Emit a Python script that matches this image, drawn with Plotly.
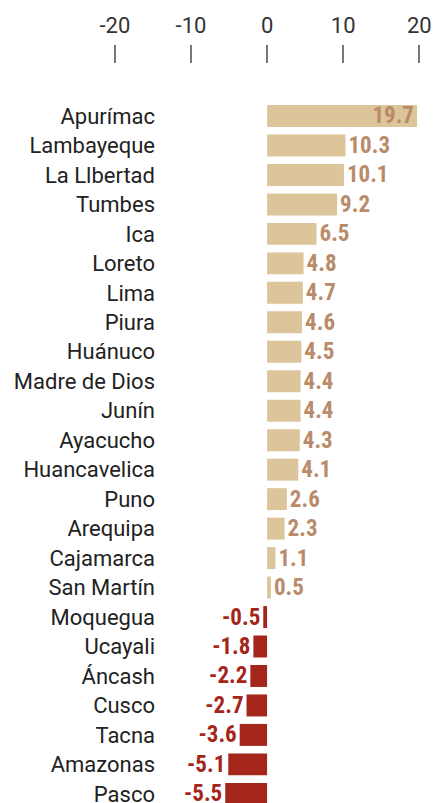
import plotly.graph_objects as go

regions = ["Apurímac", "Lambayeque", "La Llbertad", "Tumbes", "Ica", "Loreto", "Lima", "Piura",
           "Huánuco", "Madre de Dios", "Junín", "Ayacucho", "Huancavelica", "Puno", "Arequipa",
           "Cajamarca", "San Martín", "Moquegua", "Ucayali", "Áncash", "Cusco", "Tacna",
           "Amazonas", "Pasco"]
values = [19.7, 10.3, 10.1, 9.2, 6.5, 4.8, 4.7, 4.6, 4.5, 4.4, 4.4, 4.3, 4.1, 2.6, 2.3, 1.1, 0.5,
          -0.5, -1.8, -2.2, -2.7, -3.6, -5.1, -5.5]
tick_vals = [-20, -10, 0, 10, 20]
tick_text = ["-20", "-10", "0", "10", "20"]

pos_bar = "#DCC59B"
pos_txt = "#B98B6B"
neg_col = "#A4261B"

bar_colors = [pos_bar if v >= 0 else neg_col for v in values]
txt_colors = [pos_txt if v >= 0 else neg_col for v in values]
positions = ["inside" if v > 15 else "outside" for v in values]
labels = [f"{v:.1f}" for v in values]

val_font = dict(family="Liberation Sans Narrow, Roboto Condensed, Roboto", size=23,
                color=txt_colors, weight="bold")

fig = go.Figure(go.Bar(
    x=values, y=regions, orientation="h",
    marker=dict(color=bar_colors, line=dict(width=0)),
    width=0.745,
    text=labels, textposition=positions,
    insidetextanchor="end",
    textfont=val_font, insidetextfont=val_font, outsidetextfont=val_font,
    cliponaxis=False,
    constraintext="none",
))

W, H = 436, 803

fig.update_layout(
    width=W, height=H,
    margin=dict(l=0, r=0, t=64, b=0, autoexpand=False),
    paper_bgcolor="white", plot_bgcolor="white",
    showlegend=False,
    xaxis=dict(
        range=[-35.1, 22.2], side="top", tickvals=tick_vals, ticktext=tick_text,
        ticks="outside", ticklen=18, tickwidth=1.5, tickcolor="#777",
        ticklabelstandoff=3,
        tickfont=dict(family="Roboto", size=22, color="#333"),
        showgrid=False, zeroline=False, showline=False, fixedrange=True,
        automargin=False,
    ),
    yaxis=dict(
        categoryorder="array", categoryarray=regions,
        range=[23.31, -1.764],
        anchor="free", position=155 / W, side="left",
        ticks="", showgrid=False, zeroline=False, showline=False,
        tickfont=dict(family="Roboto", size=22, color="#222"),
        fixedrange=True, automargin=False,
    ),
)

fig.write_html(
    "out.html",
    config={"displayModeBar": False},
    post_script="document.body.style.margin='0';document.documentElement.style.overflow='hidden';",
)
